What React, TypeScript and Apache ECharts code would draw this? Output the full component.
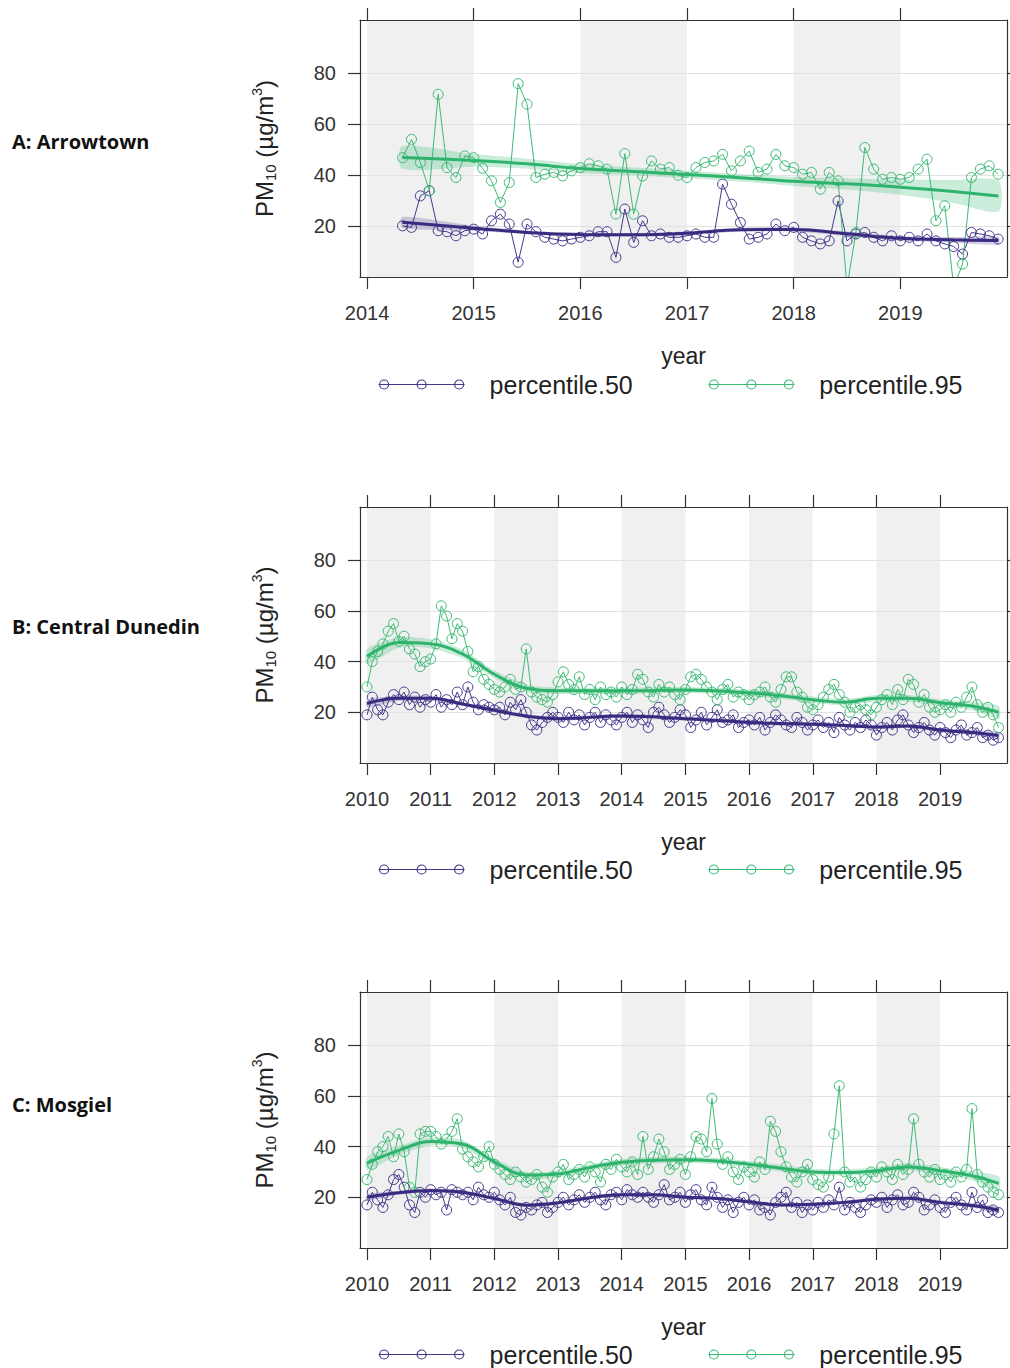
import React, { useEffect, useRef } from 'react';
import * as echarts from 'echarts';

// ---------------- DATA ----------------
// Panel A: Arrowtown, monthly May 2014 - Dec 2019
const startA = [2014, 5];
const p95A = [
  46.9, 54.1, 45.0, 33.9, 71.8, 43.0, 39.1, 47.6,
  46.9, 42.7, 37.8, 29.3, 37.1, 76.0, 67.9, 39.1, 40.4, 41.1, 39.7, 41.7,
  43.0, 44.5, 43.7, 42.4, 24.7, 48.5, 24.7, 39.7, 45.6, 42.4, 43.0, 40.0,
  39.1, 43.0, 45.0, 45.6, 48.2, 41.7, 45.6, 49.5, 41.1, 42.4, 48.2, 43.7,
  43.0, 40.4, 41.1, 34.5, 41.1, 37.8, -4.0, 17.5, 50.9, 42.4, 38.4, 39.1,
  38.4, 39.1, 42.4, 46.3, 22.1, 28.0, -4.0, 5.1, 39.1, 42.4, 43.7, 40.4,
];
const p50A = [
  20.1, 19.5, 31.9, 33.9, 18.2, 17.8, 16.2, 18.2,
  18.8, 16.9, 22.1, 24.7, 20.8, 5.8, 20.8, 17.8, 15.6, 14.9, 14.2, 14.9,
  15.6, 16.2, 17.8, 17.8, 7.7, 26.7, 13.6, 22.1, 16.2, 16.9, 15.6, 15.6,
  16.2, 16.9, 15.6, 15.6, 36.5, 28.6, 21.4, 14.9, 15.6, 16.9, 20.8, 18.2,
  19.5, 15.6, 14.2, 13.0, 14.2, 29.9, 14.2, 16.9, 17.5, 15.6, 14.2, 16.2,
  14.2, 15.6, 14.2, 16.9, 14.2, 13.0, 12.0, 9.0, 17.5, 16.9, 16.2, 14.9,
];
const trendTA = [2014.33, 2015.0, 2015.5, 2016.0, 2016.5, 2017.0, 2017.5, 2018.0, 2018.5, 2019.0, 2019.5, 2019.92];
const trend95A = [47.0, 45.8, 44.5, 42.6, 41.5, 40.3, 39.0, 37.6, 36.6, 35.3, 33.6, 31.8];
const lo95A = [42.5, 43.3, 42.5, 40.8, 40.0, 38.8, 37.5, 35.8, 34.4, 32.3, 29.1, 25.8];
const hi95A = [51.5, 48.3, 46.5, 44.4, 43.0, 41.8, 40.5, 39.4, 38.8, 38.3, 38.1, 37.8];
const trend50A = [21.5, 19.2, 17.5, 16.7, 16.6, 17.2, 18.6, 18.7, 17.0, 15.2, 14.6, 14.3];
const lo50A = [19.3, 18.2, 16.8, 16.0, 15.9, 16.5, 17.8, 17.9, 16.1, 14.3, 13.5, 12.8];
const hi50A = [23.7, 20.2, 18.2, 17.4, 17.3, 17.9, 19.4, 19.5, 17.9, 16.1, 15.7, 15.8];
const yearsA = [2014, 2015, 2016, 2017, 2018, 2019];
const shadedA = [2014, 2016, 2018];
const xRangeA = [2013.934, 2020.0];

// Panel B: Central Dunedin, monthly Jan 2010 - Dec 2019
const startB = [2010, 1];
const p95B = [
  30, 40, 44, 47, 52, 55, 48, 50, 45, 43, 38, 40,
  41, 47, 62, 58, 49, 55, 52, 44, 36, 38, 33, 31,
  29, 28, 30, 33, 29, 30, 45, 28, 26, 25, 24, 27,
  32, 36, 31, 29, 34, 27, 29, 25, 30, 27, 28, 26,
  30, 27, 29, 35, 33, 28, 26, 31, 28, 30, 27, 25,
  29, 34, 35, 33, 30, 28, 25, 29, 31, 26, 28, 27,
  25, 27, 28, 30, 26, 24, 29, 34, 34, 28, 26, 22,
  21, 23, 26, 29, 31, 27, 24, 20, 22, 23, 21, 19,
  22, 25, 27, 23, 29, 25, 33, 31, 24, 27, 22, 20,
  21, 23, 20, 24, 22, 26, 30, 23, 20, 22, 19, 14,
];
const p50B = [
  19, 26, 21, 19, 24, 27, 25, 28, 23, 26, 22, 25,
  24, 27, 22, 25, 23, 28, 23, 30, 24, 21, 23, 22,
  21, 22, 19, 24, 21, 25, 20, 15, 13, 16, 18, 20,
  18, 16, 20, 17, 19, 15, 18, 20, 16, 19, 17, 15,
  18, 20, 16, 19, 17, 14, 20, 22, 19, 16, 18, 21,
  19, 14, 17, 20, 15, 18, 21, 16, 17, 19, 14, 16,
  17, 15, 18, 13, 16, 19, 17, 15, 14, 18, 16, 13,
  15, 17, 14, 16, 12, 18, 15, 13, 16, 14, 17, 15,
  11, 14, 16, 13, 17, 19, 15, 12, 14, 16, 13, 11,
  14, 12, 10, 13, 15, 11, 12, 14, 10, 11, 9, 10,
];
const trendTB = [2010.0, 2010.5, 2011.0, 2011.5, 2012.0, 2012.5, 2013.0, 2014.0, 2015.0, 2016.0, 2016.5, 2017.0, 2017.5, 2018.0, 2018.5, 2019.0, 2019.5, 2019.92];
const trend95B = [42, 47.5, 47, 43, 35, 29.5, 28.5, 28.5, 28.8, 27.7, 26.5, 25, 24, 25.5, 25.5, 23.8, 22.5, 20];
const lo95B = [39, 45.5, 45.2, 41.3, 33.4, 28, 27.2, 27.3, 27.6, 26.5, 25.3, 23.8, 22.8, 24.2, 24.2, 22.4, 20.8, 17.5];
const hi95B = [45, 49.5, 48.8, 44.7, 36.6, 31, 29.8, 29.7, 30, 28.9, 27.7, 26.2, 25.2, 26.8, 26.8, 25.2, 24.2, 22.5];
const trend50B = [23.5, 25.5, 25.5, 23.3, 20.8, 18.5, 17.5, 18.5, 17.5, 16, 15.6, 15.3, 14.8, 14.2, 14.6, 13, 12, 10.8];
const lo50B = [22, 24.5, 24.6, 22.5, 20, 17.7, 16.7, 17.7, 16.7, 15.2, 14.8, 14.5, 14, 13.4, 13.8, 12.2, 11.1, 9.4];
const hi50B = [25, 26.5, 26.4, 24.1, 21.6, 19.3, 18.3, 19.3, 18.3, 16.8, 16.4, 16.1, 15.6, 15, 15.4, 13.8, 12.9, 12.2];

// Panel C: Mosgiel, monthly Jan 2010 - Dec 2019
const startC = [2010, 1];
const p95C = [
  27, 33, 38, 40, 44, 36, 45, 38, 24, 22, 45, 46,
  46, 44, 41, 43, 46, 51, 39, 36, 34, 32, 36, 40,
  33, 31, 29, 27, 30, 28, 26, 27, 29, 24, 22, 28,
  30, 33, 27, 29, 31, 28, 32, 30, 26, 33, 31, 35,
  32, 30, 34, 29, 44, 31, 36, 43, 38, 31, 33, 35,
  29, 36, 44, 43, 38, 59, 41, 33, 36, 30, 27, 32,
  30, 28, 34, 31, 50, 46, 38, 32, 28, 26, 30, 33,
  27, 25, 24, 28, 45, 64, 30, 26, 28, 24, 27, 30,
  28, 32, 30, 27, 33, 29, 31, 51, 33, 30, 28, 31,
  27, 29, 26, 30, 28, 31, 55, 29, 26, 24, 22, 21,
];
const p50C = [
  17, 22, 19, 16, 21, 27, 29, 24, 17, 14, 22, 20,
  23, 21, 22, 15, 23, 22, 21, 22, 19, 24, 21, 20,
  22, 19, 17, 20, 14, 13, 16, 15, 17, 18, 14, 16,
  18, 20, 17, 19, 21, 18, 20, 22, 19, 17, 21, 22,
  19, 23, 21, 20, 22, 20, 18, 21, 25, 19, 20, 22,
  18, 21, 23, 19, 17, 24, 20, 16, 19, 14, 18, 20,
  17, 19, 15, 16, 13, 18, 20, 22, 16, 18, 14, 17,
  15, 18, 16, 19, 17, 24, 15, 18, 16, 14, 17, 19,
  18, 20, 16, 19, 21, 17, 18, 22, 20, 15, 17, 19,
  16, 14, 18, 20, 17, 15, 22, 16, 19, 14, 15, 14,
];
const trendTC = [2010.0, 2010.5, 2011.0, 2011.5, 2012.0, 2012.5, 2013.0, 2013.5, 2014.0, 2014.5, 2015.0, 2015.5, 2016.0, 2016.5, 2017.0, 2017.5, 2018.0, 2018.5, 2019.0, 2019.5, 2019.92];
const trend95C = [33.5, 38.5, 42, 41, 34, 28.8, 29.2, 31.8, 33.8, 34.6, 34.8, 34.3, 33, 31.5, 30, 29.8, 30.5, 32, 30.5, 28.5, 25.5];
const lo95C = [31, 36.7, 40.4, 39.4, 32.6, 27.5, 27.9, 30.5, 32.5, 33.3, 33.5, 33, 31.7, 30.2, 28.7, 28.5, 29.2, 30.6, 29, 26.7, 22.8];
const hi95C = [36, 40.3, 43.6, 42.6, 35.4, 30.1, 30.5, 33.1, 35.1, 35.9, 36.1, 35.6, 34.3, 32.8, 31.3, 31.1, 31.8, 33.4, 32, 30.3, 28.2];
const trend50C = [20, 21.8, 22.7, 22, 19.5, 16.9, 17.8, 19.8, 21, 21, 20, 19.5, 18.2, 17, 17.3, 18, 19.2, 19.6, 18, 16.8, 15];
const lo50C = [18.8, 21, 21.9, 21.2, 18.8, 16.2, 17.1, 19.1, 20.3, 20.3, 19.3, 18.8, 17.5, 16.3, 16.6, 17.3, 18.5, 18.9, 17.2, 15.9, 13.8];
const hi50C = [21.2, 22.6, 23.5, 22.8, 20.2, 17.6, 18.5, 20.5, 21.7, 21.7, 20.7, 20.2, 18.9, 17.7, 18, 18.7, 19.9, 20.3, 18.8, 17.7, 16.2];

const yearsBC = [2010, 2011, 2012, 2013, 2014, 2015, 2016, 2017, 2018, 2019];
const shadedBC = [2010, 2012, 2014, 2016, 2018];
const xRangeBC = [2009.89, 2020.05];

const yTicks = [20, 40, 60, 80];
const yRange = [0, 101];
const stationLabels = ['A: Arrowtown', 'B: Central Dunedin', 'C: Mosgiel'];
const seriesNames = ['percentile.50', 'percentile.95'];

// ---------------- STYLE / LAYOUT ----------------
const FONT = '"Liberation Sans", Arial, Helvetica, sans-serif';
const PURPLE = '#45398c';
const PURPLE_TREND = '#3a2b80';
const GREEN = '#3dbb74';
const GREEN_TREND = '#2db36b';
const AXIS = '#333333';
const gridTops = [20, 507, 992];
const gridHeights = [257, 256, 256];
const gridLeft = 360;
const gridWidth = 647;
const legendTops = [372, 857, 1342];
const labelYs = [141, 626, 1104];
const LEGEND_ICON =
  'path://M0,6L86,6M10,6A4.5,4.5,0,1,1,1,6A4.5,4.5,0,1,1,10,6M47.5,6A4.5,4.5,0,1,1,38.5,6A4.5,4.5,0,1,1,47.5,6M85,6A4.5,4.5,0,1,1,76,6A4.5,4.5,0,1,1,85,6M106,6';

function monthTimes(start: number[], count: number): number[] {
  const out: number[] = [];
  for (let i = 0; i < count; i++) {
    const m = start[1] - 1 + i;
    out.push(start[0] + Math.floor(m / 12) + (m % 12) / 12);
  }
  return out;
}

function pairs(xs: number[], ys: number[]) {
  return xs.map((x, i) => [x, ys[i]]);
}

type Panel = {
  start: number[];
  p50: number[];
  p95: number[];
  tt: number[];
  tr50: number[];
  lo50: number[];
  hi50: number[];
  tr95: number[];
  lo95: number[];
  hi95: number[];
  years: number[];
  shaded: number[];
  xr: number[];
};

const panels: Panel[] = [
  { start: startA, p50: p50A, p95: p95A, tt: trendTA, tr50: trend50A, lo50: lo50A, hi50: hi50A, tr95: trend95A, lo95: lo95A, hi95: hi95A, years: yearsA, shaded: shadedA, xr: xRangeA },
  { start: startB, p50: p50B, p95: p95B, tt: trendTB, tr50: trend50B, lo50: lo50B, hi50: hi50B, tr95: trend95B, lo95: lo95B, hi95: hi95B, years: yearsBC, shaded: shadedBC, xr: xRangeBC },
  { start: startC, p50: p50C, p95: p95C, tt: trendTC, tr50: trend50C, lo50: lo50C, hi50: hi50C, tr95: trend95C, lo95: lo95C, hi95: hi95C, years: yearsBC, shaded: shadedBC, xr: xRangeBC },
];

function bandSeries(gi: number, tt: number[], lo: number[], hi: number[], color: string, opacity: number, name: string) {
  return {
    type: 'custom',
    name,
    xAxisIndex: gi,
    yAxisIndex: gi,
    z: 3,
    silent: true,
    data: [[tt[0], lo[0]]],
    renderItem: (params: any, api: any) => {
      const pts: number[][] = [];
      for (let i = 0; i < tt.length; i++) pts.push(api.coord([tt[i], hi[i]]));
      for (let i = tt.length - 1; i >= 0; i--) pts.push(api.coord([tt[i], lo[i]]));
      return {
        type: 'polygon',
        shape: { points: pts, smooth: 0.25 },
        style: { fill: color, opacity },
      };
    },
  };
}

function buildOption(useLegendIcon: boolean) {
  const grid: any[] = [];
  const xAxis: any[] = [];
  const yAxis: any[] = [];
  const series: any[] = [];
  const legend: any[] = [];
  const graphic: any[] = [];

  panels.forEach((p, gi) => {
    grid.push({ left: gridLeft, top: gridTops[gi], width: gridWidth, height: gridHeights[gi], show: false });
  });

  panels.forEach((p, gi) => {
    xAxis.push({
      gridIndex: gi,
      type: 'value',
      min: p.xr[0],
      max: p.xr[1],
      position: 'bottom',
      z: 6,
      axisLine: { show: true, onZero: false, lineStyle: { color: AXIS, width: 1.2 } },
      axisTick: { show: true, inside: false, length: 12, customValues: p.years, lineStyle: { color: AXIS, width: 1.2 } },
      axisLabel: {
        show: true,
        customValues: p.years,
        margin: 26,
        fontSize: 20,
        color: AXIS,
        fontFamily: FONT,
        formatter: (v: number) => String(Math.round(v)),
      },
      splitLine: { show: false },
      name: 'year',
      nameLocation: 'middle',
      nameGap: 67,
      nameTextStyle: { fontSize: 23, color: '#222', fontFamily: FONT },
    });
  });
  panels.forEach((p, gi) => {
    xAxis.push({
      gridIndex: gi,
      type: 'value',
      min: p.xr[0],
      max: p.xr[1],
      position: 'top',
      z: 6,
      axisLine: { show: true, onZero: false, lineStyle: { color: AXIS, width: 1.2 } },
      axisTick: { show: true, inside: false, length: 12, customValues: p.years, lineStyle: { color: AXIS, width: 1.2 } },
      axisLabel: { show: false },
      splitLine: { show: false },
    });
  });
  panels.forEach((p, gi) => {
    yAxis.push({
      gridIndex: gi,
      type: 'value',
      min: yRange[0],
      max: yRange[1],
      position: 'left',
      z: 6,
      axisLine: { show: true, onZero: false, lineStyle: { color: AXIS, width: 1.2 } },
      axisTick: { show: true, inside: false, length: 12, customValues: yTicks, lineStyle: { color: AXIS, width: 1.2 } },
      axisLabel: { show: true, customValues: yTicks, margin: 24, fontSize: 20, color: AXIS, fontFamily: FONT },
      splitLine: { show: false },
      name: '{a|PM}{b|10}{a| (µg/m}{c|3}{a|)}',
      nameLocation: 'middle',
      nameRotate: 90,
      nameGap: 82,
      nameTextStyle: {
        color: '#222',
        fontFamily: FONT,
        rich: {
          a: { fontSize: 24, lineHeight: 28, color: '#222', fontFamily: FONT },
          b: { fontSize: 15, lineHeight: 28, color: '#222', fontFamily: FONT, verticalAlign: 'bottom' },
          c: { fontSize: 14, lineHeight: 28, color: '#222', fontFamily: FONT, verticalAlign: 'top' },
        },
      },
    });
  });
  panels.forEach((p, gi) => {
    yAxis.push({
      gridIndex: gi,
      type: 'value',
      min: yRange[0],
      max: yRange[1],
      position: 'right',
      z: 6,
      axisLine: { show: true, onZero: false, lineStyle: { color: AXIS, width: 1.2 } },
      axisTick: { show: true, inside: false, length: 12, customValues: yTicks, lineStyle: { color: AXIS, width: 1.2 } },
      axisLabel: { show: false },
      splitLine: { show: false },
    });
  });

  panels.forEach((p, gi) => {
    const times = monthTimes(p.start, p.p50.length);
    series.push({
      type: 'line',
      name: seriesNames[0],
      xAxisIndex: gi,
      yAxisIndex: gi,
      z: 2,
      data: pairs(times, p.p50),
      symbol: 'circle',
      symbolSize: 10,
      itemStyle: { color: 'rgba(0,0,0,0)', borderColor: PURPLE, borderWidth: 1 },
      lineStyle: { color: PURPLE, width: 1 },
      emphasis: { disabled: true },
      markArea: {
        silent: true,
        z: 1,
        itemStyle: { color: '#f0f0f0' },
        data: p.shaded.map((y) => [{ xAxis: Math.max(y, p.xr[0]) }, { xAxis: y + 1 }]),
      },
      markLine: {
        silent: true,
        z: 1.5,
        symbol: ['none', 'none'],
        label: { show: false },
        lineStyle: { color: '#e2e2e2', width: 1, type: 'solid' },
        data: yTicks.map((v) => ({ yAxis: v })),
      },
    });
    series.push({
      type: 'line',
      name: seriesNames[1],
      xAxisIndex: gi,
      yAxisIndex: gi,
      z: 2,
      data: pairs(times, p.p95),
      symbol: 'circle',
      symbolSize: 10,
      itemStyle: { color: 'rgba(0,0,0,0)', borderColor: GREEN, borderWidth: 1 },
      lineStyle: { color: GREEN, width: 1 },
      emphasis: { disabled: true },
    });
    series.push(bandSeries(gi, p.tt, p.lo50, p.hi50, PURPLE_TREND, 0.22, 'band50'));
    series.push(bandSeries(gi, p.tt, p.lo95, p.hi95, GREEN_TREND, 0.25, 'band95'));
    series.push({
      type: 'line',
      name: 'trend50',
      xAxisIndex: gi,
      yAxisIndex: gi,
      z: 4,
      data: pairs(p.tt, p.tr50),
      smooth: 0.4,
      symbol: 'none',
      lineStyle: { color: PURPLE_TREND, width: 3 },
      emphasis: { disabled: true },
      silent: true,
    });
    series.push({
      type: 'line',
      name: 'trend95',
      xAxisIndex: gi,
      yAxisIndex: gi,
      z: 4,
      data: pairs(p.tt, p.tr95),
      smooth: 0.4,
      symbol: 'none',
      lineStyle: { color: GREEN_TREND, width: 3 },
      emphasis: { disabled: true },
      silent: true,
    });

    legend.push({
      left: 378,
      top: legendTops[gi],
      orient: 'horizontal',
      padding: 0,
      itemGap: 75,
      itemWidth: useLegendIcon ? 106 : 88,
      itemHeight: 9,
      selectedMode: false,
      textStyle: { fontSize: 25, color: '#222', fontFamily: FONT },
      data: [
        { name: seriesNames[0], icon: useLegendIcon ? LEGEND_ICON : 'circle', itemStyle: { color: 'rgba(0,0,0,0)', borderColor: PURPLE, borderWidth: 1.2 } },
        { name: seriesNames[1], icon: useLegendIcon ? LEGEND_ICON : 'circle', itemStyle: { color: 'rgba(0,0,0,0)', borderColor: GREEN, borderWidth: 1.2 } },
      ],
    });

    graphic.push({
      type: 'text',
      x: 12,
      y: labelYs[gi],
      style: {
        text: stationLabels[gi],
        fontSize: 20,
        fontWeight: 'bold',
        fontFamily: '"Open Sans", "Noto Sans", sans-serif',
        fill: '#111',
        verticalAlign: 'middle',
        align: 'left',
      },
    });
  });

  return {
    animation: false,
    backgroundColor: '#ffffff',
    textStyle: { fontFamily: FONT },
    grid,
    xAxis,
    yAxis,
    legend,
    series,
    graphic,
  };
}

export default function App() {
  const ref = useRef<HTMLDivElement>(null);
  useEffect(() => {
    if (!ref.current) return;
    const chart = echarts.init(ref.current, null, { renderer: 'svg' });
    try {
      chart.setOption(buildOption(true) as any);
    } catch (e) {
      chart.clear();
      chart.setOption(buildOption(false) as any);
    }
    return () => chart.dispose();
  }, []);
  return (
    <div
      ref={ref}
      style={{ position: 'fixed', left: 0, top: 0, width: 1010, height: 1368, background: '#fff' }}
    />
  );
}
